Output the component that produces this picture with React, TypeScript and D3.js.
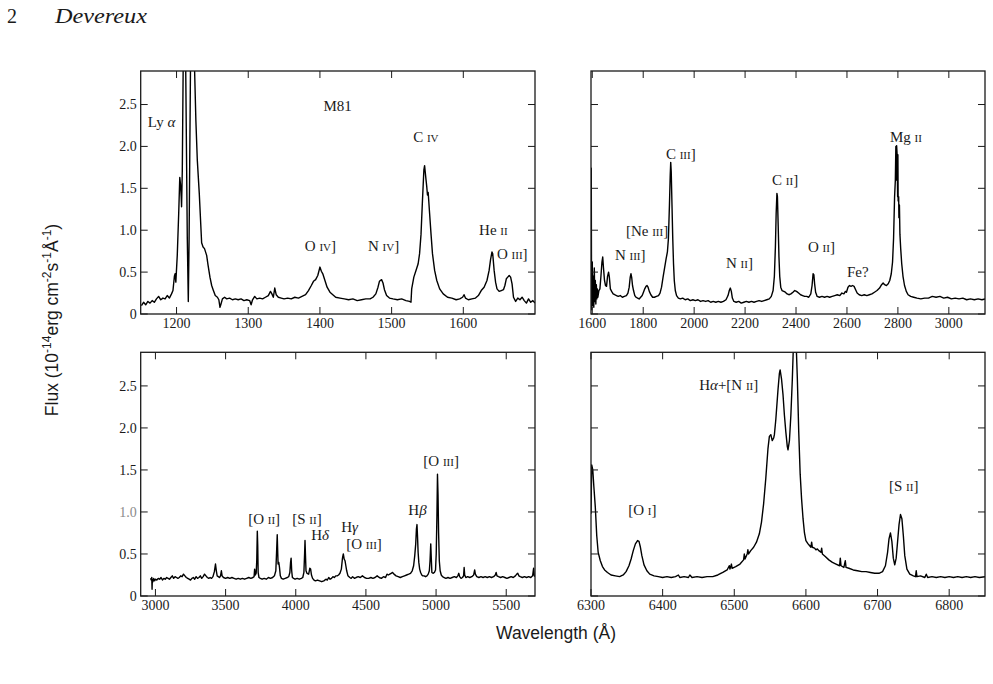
import React from 'react';
import * as d3 from 'd3';

type Pt = [number, number];

// flux axis shared by all four panels (units of 1e-14 erg/cm2/s/A)
const fluxTicks = [0, 0.5, 1.0, 1.5, 2.0, 2.5];
const fluxTickLabels = ['0', '0.5', '1.0', '1.5', '2.0', '2.5'];

const uvShortTicks = [1200, 1300, 1400, 1500, 1600];
const uvLongTicks = [1600, 1800, 2000, 2200, 2400, 2600, 2800, 3000];
const opticalTicks = [3000, 3500, 4000, 4500, 5000, 5500];
const redTicks = [6300, 6400, 6500, 6600, 6700, 6800];

// [wavelength, flux]
const uvShortSpec: Pt[] = [
  [1151, 0.1], [1154, 0.14], [1157, 0.11], [1160, 0.15], [1163, 0.13], [1166, 0.16], [1169, 0.14],
  [1172, 0.18], [1175, 0.21], [1178, 0.17], [1181, 0.19], [1184, 0.18], [1187, 0.22], [1190, 0.19],
  [1193, 0.24], [1195, 0.28], [1197, 0.45], [1198, 0.48], [1199, 0.38], [1201, 0.7], [1203, 1.2],
  [1204.5, 1.63], [1205.5, 1.55], [1206.5, 1.4], [1207, 1.28], [1208, 1.7], [1209.5, 3.2],
  [1212.5, 3.2], [1215, 0.9], [1216.4, 0.15], [1217.5, 0.9], [1219.7, 3.2], [1224.3, 3.2],
  [1227, 2.3], [1229, 1.83], [1231.7, 1.44], [1235, 0.85], [1237, 0.8], [1239, 0.78], [1242, 0.7],
  [1244, 0.58], [1246.6, 0.44], [1249, 0.34], [1251, 0.29], [1254, 0.22], [1257, 0.2], [1259, 0.17],
  [1260.6, 0.08], [1262, 0.12], [1264, 0.18], [1267, 0.2], [1270, 0.18], [1274, 0.19], [1278, 0.17],
  [1282, 0.18], [1286, 0.17], [1290, 0.18], [1294, 0.16], [1298, 0.17], [1302, 0.16], [1304, 0.11],
  [1306, 0.17], [1309, 0.21], [1312, 0.18], [1316, 0.19], [1320, 0.18], [1324, 0.2], [1328, 0.22],
  [1331, 0.27], [1333, 0.24], [1335, 0.2], [1337, 0.31], [1339, 0.23], [1342, 0.2], [1346, 0.19],
  [1350, 0.18], [1355, 0.19], [1360, 0.18], [1365, 0.2], [1370, 0.19], [1375, 0.21], [1380, 0.23],
  [1384, 0.28], [1388, 0.34], [1391, 0.39], [1394, 0.41], [1397, 0.46], [1400, 0.56], [1402, 0.51],
  [1404, 0.48], [1407, 0.4], [1410, 0.32], [1414, 0.26], [1418, 0.23], [1422, 0.2], [1428, 0.19],
  [1434, 0.18], [1440, 0.17], [1446, 0.18], [1452, 0.16], [1458, 0.17], [1464, 0.18], [1470, 0.18],
  [1474, 0.2], [1478, 0.24], [1481, 0.32], [1483, 0.39], [1486, 0.41], [1488, 0.37], [1490, 0.29],
  [1493, 0.22], [1497, 0.19], [1502, 0.18], [1508, 0.17], [1514, 0.18], [1520, 0.16], [1525, 0.15],
  [1527, 0.14], [1528, 0.3], [1531, 0.44], [1534, 0.52], [1537, 0.6], [1539, 0.72], [1541, 0.95],
  [1543, 1.35], [1545, 1.72], [1546, 1.77], [1548, 1.6], [1549, 1.52], [1550, 1.42], [1551, 1.45],
  [1553, 1.2], [1555, 0.95], [1557, 0.72], [1560, 0.52], [1563, 0.4], [1567, 0.3], [1572, 0.24],
  [1578, 0.2], [1584, 0.19], [1590, 0.17], [1595, 0.18], [1599, 0.2], [1601, 0.23], [1603, 0.19],
  [1607, 0.17], [1612, 0.18], [1617, 0.19], [1621, 0.22], [1625, 0.28], [1629, 0.32], [1633, 0.4],
  [1636, 0.52], [1638, 0.65], [1640, 0.74], [1641, 0.72], [1643, 0.52], [1645, 0.38], [1647, 0.3],
  [1650, 0.27], [1653, 0.28], [1656, 0.29], [1658, 0.34], [1660, 0.42], [1662, 0.44], [1664, 0.46],
  [1666, 0.44], [1668, 0.36], [1670, 0.2], [1673, 0.15], [1676, 0.19], [1679, 0.17], [1682, 0.2],
  [1685, 0.16], [1688, 0.13], [1691, 0.18], [1694, 0.14], [1697, 0.16], [1700, 0.13],
];

const uvLongSpec: Pt[] = [
  [1595, 0.3], [1596, 1.74], [1597, 0.4], [1598, 0.05], [1600, 0.62], [1602, 0.1], [1604, 0.45],
  [1606, 0.08], [1608, 0.55], [1610, 0.15], [1612, 0.4], [1614, 0.12], [1616, 0.35], [1618, 0.18],
  [1620, 0.3], [1622, 0.2], [1626, 0.28], [1630, 0.3], [1634, 0.45], [1638, 0.62], [1641, 0.68],
  [1644, 0.55], [1648, 0.4], [1652, 0.34], [1656, 0.33], [1660, 0.45], [1664, 0.5], [1667, 0.44],
  [1671, 0.3], [1676, 0.27], [1682, 0.24], [1688, 0.23], [1695, 0.22], [1702, 0.21], [1710, 0.22],
  [1718, 0.2], [1726, 0.21], [1734, 0.22], [1740, 0.25], [1745, 0.32], [1749, 0.44], [1752, 0.48],
  [1755, 0.43], [1758, 0.34], [1762, 0.28], [1767, 0.22], [1772, 0.2], [1778, 0.19], [1784, 0.18],
  [1790, 0.2], [1796, 0.22], [1801, 0.26], [1806, 0.3], [1811, 0.33], [1815, 0.34], [1819, 0.32],
  [1824, 0.27], [1830, 0.23], [1837, 0.2], [1844, 0.2], [1852, 0.21], [1860, 0.22], [1866, 0.25],
  [1872, 0.32], [1878, 0.44], [1884, 0.55], [1890, 0.66], [1895, 0.74], [1899, 0.9], [1903, 1.3],
  [1906, 1.65], [1908, 1.81], [1910, 1.7], [1913, 1.3], [1916, 0.9], [1919, 0.6], [1922, 0.4],
  [1926, 0.28], [1931, 0.22], [1938, 0.19], [1946, 0.18], [1955, 0.19], [1965, 0.17], [1975, 0.18],
  [1985, 0.16], [1995, 0.17], [2005, 0.16], [2015, 0.17], [2025, 0.15], [2035, 0.16], [2045, 0.15],
  [2055, 0.16], [2065, 0.14], [2075, 0.15], [2085, 0.14], [2095, 0.15], [2105, 0.14], [2115, 0.15],
  [2125, 0.17], [2133, 0.22], [2138, 0.28], [2142, 0.31], [2146, 0.27], [2150, 0.19], [2156, 0.15],
  [2165, 0.14], [2175, 0.15], [2185, 0.13], [2195, 0.14], [2205, 0.15], [2215, 0.14], [2225, 0.15],
  [2235, 0.14], [2245, 0.15], [2255, 0.16], [2265, 0.15], [2275, 0.16], [2285, 0.17], [2295, 0.18],
  [2303, 0.21], [2310, 0.28], [2315, 0.45], [2319, 0.8], [2322, 1.2], [2325, 1.44], [2327, 1.4],
  [2330, 1.05], [2333, 0.68], [2336, 0.45], [2340, 0.32], [2345, 0.28], [2352, 0.27], [2358, 0.26],
  [2365, 0.24], [2372, 0.23], [2380, 0.24], [2388, 0.26], [2395, 0.28], [2402, 0.27], [2410, 0.25],
  [2418, 0.23], [2426, 0.22], [2434, 0.21], [2442, 0.21], [2450, 0.2], [2458, 0.24], [2463, 0.34],
  [2467, 0.48], [2470, 0.47], [2473, 0.36], [2477, 0.26], [2483, 0.21], [2492, 0.2], [2502, 0.21],
  [2512, 0.2], [2522, 0.21], [2532, 0.2], [2542, 0.21], [2552, 0.22], [2562, 0.23], [2572, 0.22],
  [2580, 0.25], [2588, 0.24], [2594, 0.27], [2598, 0.26], [2604, 0.32], [2610, 0.34], [2616, 0.33],
  [2622, 0.34], [2628, 0.33], [2634, 0.29], [2640, 0.25], [2648, 0.23], [2658, 0.22], [2668, 0.23],
  [2678, 0.22], [2688, 0.23], [2698, 0.24], [2708, 0.26], [2718, 0.28], [2728, 0.31], [2736, 0.35],
  [2742, 0.37], [2748, 0.35], [2755, 0.34], [2762, 0.36], [2768, 0.4], [2774, 0.48], [2779, 0.62],
  [2783, 0.9], [2787, 1.4], [2790, 1.6], [2792, 2.0], [2794, 1.6], [2795, 2.01], [2797, 1.9],
  [2799, 1.4], [2800, 1.9], [2801, 1.35], [2803, 1.4], [2804, 1.15], [2806, 1.3], [2808, 0.95],
  [2811, 0.78], [2815, 0.6], [2820, 0.45], [2826, 0.34], [2833, 0.27], [2840, 0.23], [2850, 0.21],
  [2862, 0.2], [2875, 0.19], [2890, 0.18], [2905, 0.19], [2920, 0.19], [2935, 0.21], [2950, 0.2],
  [2965, 0.21], [2980, 0.19], [2995, 0.2], [3010, 0.18], [3025, 0.19], [3040, 0.18], [3055, 0.19],
  [3070, 0.17], [3085, 0.18], [3100, 0.17], [3115, 0.18], [3130, 0.17], [3142, 0.18],
];

const opticalSpec: Pt[] = [
  [2965, 0.21], [2970, 0.19], [2974, 0.22], [2976, 0.08], [2978, 0.2], [2982, 0.17], [2988, 0.21],
  [2994, 0.18], [3000, 0.2], [3010, 0.19], [3020, 0.21], [3030, 0.2], [3040, 0.22], [3050, 0.19],
  [3060, 0.21], [3070, 0.2], [3080, 0.22], [3090, 0.21], [3100, 0.2], [3110, 0.22], [3120, 0.24],
  [3130, 0.21], [3140, 0.23], [3150, 0.22], [3160, 0.21], [3170, 0.22], [3180, 0.24], [3190, 0.23],
  [3200, 0.26], [3210, 0.24], [3220, 0.22], [3230, 0.21], [3240, 0.2], [3250, 0.19], [3260, 0.21],
  [3270, 0.22], [3280, 0.2], [3290, 0.23], [3300, 0.21], [3310, 0.22], [3320, 0.24], [3330, 0.21],
  [3340, 0.23], [3350, 0.26], [3360, 0.24], [3370, 0.22], [3380, 0.21], [3390, 0.22], [3400, 0.21],
  [3410, 0.23], [3420, 0.29], [3428, 0.38], [3434, 0.3], [3440, 0.24], [3448, 0.23], [3456, 0.22],
  [3464, 0.24], [3470, 0.3], [3475, 0.24], [3485, 0.22], [3500, 0.21], [3515, 0.22], [3530, 0.21],
  [3545, 0.22], [3560, 0.21], [3575, 0.2], [3590, 0.21], [3605, 0.2], [3620, 0.21], [3635, 0.2],
  [3650, 0.21], [3665, 0.22], [3680, 0.21], [3695, 0.22], [3703, 0.23], [3707, 0.32], [3712, 0.25],
  [3718, 0.27], [3722, 0.42], [3726, 0.77], [3729, 0.6], [3732, 0.28], [3738, 0.22], [3748, 0.21],
  [3760, 0.2], [3775, 0.21], [3790, 0.2], [3805, 0.22], [3820, 0.21], [3835, 0.22], [3848, 0.24],
  [3858, 0.3], [3864, 0.55], [3868, 0.73], [3871, 0.55], [3874, 0.38], [3879, 0.4], [3884, 0.34],
  [3890, 0.24], [3898, 0.21], [3910, 0.2], [3925, 0.21], [3940, 0.22], [3950, 0.23], [3958, 0.28],
  [3963, 0.4], [3967, 0.45], [3971, 0.3], [3976, 0.22], [3985, 0.21], [3995, 0.2], [4010, 0.21],
  [4025, 0.2], [4040, 0.21], [4050, 0.22], [4058, 0.28], [4063, 0.5], [4066, 0.66], [4069, 0.5],
  [4073, 0.3], [4080, 0.27], [4092, 0.26], [4100, 0.33], [4106, 0.32], [4112, 0.25], [4120, 0.21],
  [4130, 0.19], [4140, 0.18], [4155, 0.19], [4170, 0.18], [4185, 0.17], [4200, 0.18], [4215, 0.2],
  [4225, 0.19], [4235, 0.22], [4245, 0.2], [4255, 0.21], [4265, 0.23], [4275, 0.22], [4285, 0.24],
  [4295, 0.24], [4305, 0.25], [4315, 0.27], [4325, 0.32], [4333, 0.45], [4339, 0.5], [4345, 0.44],
  [4351, 0.42], [4357, 0.36], [4363, 0.3], [4372, 0.24], [4385, 0.22], [4395, 0.21], [4405, 0.23],
  [4418, 0.21], [4430, 0.22], [4445, 0.23], [4460, 0.22], [4475, 0.24], [4490, 0.22], [4505, 0.21],
  [4520, 0.21], [4535, 0.22], [4550, 0.21], [4565, 0.22], [4580, 0.24], [4595, 0.22], [4610, 0.21],
  [4625, 0.23], [4640, 0.22], [4650, 0.26], [4660, 0.25], [4670, 0.26], [4680, 0.27], [4690, 0.28],
  [4700, 0.26], [4715, 0.24], [4730, 0.23], [4745, 0.22], [4760, 0.23], [4775, 0.24], [4790, 0.25],
  [4805, 0.26], [4818, 0.27], [4830, 0.3], [4840, 0.36], [4848, 0.48], [4855, 0.62], [4860, 0.8],
  [4864, 0.85], [4868, 0.7], [4872, 0.52], [4877, 0.4], [4883, 0.32], [4890, 0.28], [4898, 0.25],
  [4906, 0.24], [4915, 0.24], [4925, 0.23], [4935, 0.24], [4944, 0.26], [4952, 0.3], [4957, 0.42],
  [4962, 0.62], [4966, 0.45], [4970, 0.28], [4978, 0.27], [4988, 0.28], [4996, 0.31], [5001, 0.5],
  [5006, 0.95], [5010, 1.45], [5014, 1.2], [5018, 0.75], [5023, 0.42], [5029, 0.3], [5037, 0.25],
  [5046, 0.23], [5058, 0.22], [5070, 0.21], [5085, 0.22], [5100, 0.21], [5115, 0.22], [5130, 0.23],
  [5145, 0.22], [5155, 0.24], [5162, 0.27], [5168, 0.23], [5178, 0.21], [5188, 0.22], [5196, 0.24],
  [5200, 0.34], [5204, 0.25], [5212, 0.22], [5225, 0.23], [5240, 0.22], [5255, 0.23], [5268, 0.25],
  [5275, 0.31], [5280, 0.26], [5290, 0.23], [5305, 0.22], [5320, 0.23], [5335, 0.22], [5350, 0.23],
  [5365, 0.22], [5380, 0.23], [5395, 0.22], [5410, 0.23], [5422, 0.25], [5428, 0.28], [5434, 0.24],
  [5445, 0.23], [5460, 0.22], [5475, 0.23], [5490, 0.22], [5505, 0.21], [5520, 0.22], [5535, 0.23],
  [5550, 0.22], [5565, 0.24], [5575, 0.26], [5582, 0.27], [5590, 0.24], [5600, 0.23], [5615, 0.22],
  [5630, 0.23], [5645, 0.22], [5660, 0.23], [5675, 0.22], [5688, 0.24], [5695, 0.33], [5700, 0.24],
  [5704, 0.23],
];

const redSpec: Pt[] = [
  [6300, 0.98], [6301, 1.56], [6302.5, 1.5], [6304, 1.3], [6306, 1.06], [6308, 0.72], [6310, 0.52],
  [6313, 0.42], [6316, 0.35], [6319, 0.31], [6323, 0.28], [6328, 0.25], [6334, 0.24], [6340, 0.23],
  [6345, 0.25], [6349, 0.29], [6353, 0.36], [6356, 0.44], [6359, 0.54], [6362, 0.62], [6365, 0.66],
  [6367, 0.65], [6369, 0.58], [6371, 0.48], [6374, 0.37], [6378, 0.3], [6382, 0.26], [6388, 0.24],
  [6394, 0.23], [6400, 0.22], [6406, 0.23], [6412, 0.22], [6418, 0.23], [6422, 0.25], [6424, 0.22],
  [6430, 0.23], [6436, 0.22], [6438, 0.25], [6441, 0.22], [6448, 0.23], [6455, 0.22], [6462, 0.23],
  [6470, 0.23], [6477, 0.25], [6484, 0.28], [6490, 0.31], [6493, 0.36], [6494, 0.32], [6496, 0.38],
  [6497, 0.33], [6502, 0.35], [6508, 0.38], [6513, 0.43], [6514, 0.5], [6515, 0.44], [6518, 0.5],
  [6519, 0.55], [6520, 0.5], [6523, 0.54], [6527, 0.58], [6531, 0.64], [6535, 0.74], [6538, 0.88],
  [6541, 1.1], [6544, 1.4], [6547, 1.75], [6549, 1.9], [6551, 1.92], [6553, 1.85], [6555, 1.88],
  [6556, 1.92], [6558, 2.1], [6561, 2.45], [6563, 2.65], [6564, 2.69], [6566, 2.58], [6568, 2.4],
  [6570, 2.15], [6572, 1.95], [6574, 1.78], [6575, 1.74], [6577, 1.85], [6579, 2.15], [6581, 2.57],
  [6583, 3.1], [6586, 3.1], [6588, 2.6], [6590, 1.95], [6592, 1.45], [6594, 1.15], [6596, 0.92],
  [6598, 0.75], [6600, 0.66], [6603, 0.62], [6605, 0.6], [6607, 0.58], [6608, 0.64], [6609, 0.58],
  [6612, 0.57], [6614, 0.55], [6616, 0.56], [6618, 0.54], [6621, 0.52], [6622, 0.57], [6623, 0.5],
  [6627, 0.47], [6632, 0.43], [6637, 0.4], [6642, 0.38], [6647, 0.36], [6648, 0.45], [6649, 0.36],
  [6653, 0.34], [6655, 0.42], [6656, 0.34], [6660, 0.33], [6666, 0.31], [6672, 0.3], [6678, 0.29],
  [6684, 0.29], [6690, 0.28], [6696, 0.27], [6702, 0.27], [6707, 0.29], [6711, 0.36], [6714, 0.52],
  [6716, 0.68], [6718, 0.75], [6720, 0.65], [6722, 0.45], [6724, 0.37], [6726, 0.45], [6728, 0.65],
  [6730, 0.85], [6732, 0.97], [6734, 0.92], [6736, 0.72], [6738, 0.48], [6741, 0.32], [6745, 0.26],
  [6750, 0.24], [6753, 0.23], [6754, 0.3], [6755, 0.23], [6760, 0.24], [6766, 0.22], [6768, 0.26],
  [6770, 0.22], [6776, 0.23], [6782, 0.22], [6788, 0.23], [6794, 0.22], [6800, 0.23], [6806, 0.22],
  [6812, 0.23], [6818, 0.22], [6824, 0.23], [6830, 0.22], [6836, 0.23], [6842, 0.22], [6850, 0.23],
];

// line ids: {..} = small caps ion stage, _.._ = italic greek
type Note = { text: string; at: Pt };
const uvShortNotes: Note[] = [
  { text: 'Ly _α_', at: [1160, 2.23] },
  { text: 'M81', at: [1405, 2.42] },
  { text: 'C {IV}', at: [1530, 2.05] },
  { text: 'O {IV}]', at: [1379, 0.75] },
  { text: 'N {IV}]', at: [1467, 0.75] },
  { text: 'He {II}', at: [1622, 0.94] },
  { text: 'O {III}]', at: [1647, 0.66] },
];
const uvLongNotes: Note[] = [
  { text: 'C {III}]', at: [1889, 1.85] },
  { text: '[Ne {III}]', at: [1732, 0.93] },
  { text: 'N {III}]', at: [1689, 0.64] },
  { text: 'N {II}]', at: [2125, 0.55] },
  { text: 'C {II}]', at: [2306, 1.54] },
  { text: 'O {II}]', at: [2447, 0.74] },
  { text: 'Fe?', at: [2600, 0.44] },
  { text: 'Mg {II}', at: [2769, 2.05] },
];
const opticalNotes: Note[] = [
  { text: '[O {II}]', at: [3661, 0.857] },
  { text: '[S {II}]', at: [3975, 0.857] },
  { text: 'H_δ_', at: [4110, 0.667] },
  { text: 'H_γ_', at: [4324, 0.762] },
  { text: '[O {III}]', at: [4360, 0.56] },
  { text: 'H_β_', at: [4802, 0.964] },
  { text: '[O {III}]', at: [4909, 1.548] },
];
const redNotes: Note[] = [
  { text: 'H_α_+[N {II}]', at: [6451, 2.45] },
  { text: '[O {I}]', at: [6352, 0.964] },
  { text: '[S {II}]', at: [6716, 1.25] },
];

const SERIF = '"Liberation Serif", "Times New Roman", serif';
const SANS = '"Liberation Sans", Arial, Helvetica, sans-serif';
const INK = '#1a1a1a';

function renderNote(text: string) {
  return text
    .split(/(\{[^}]+\}|_[^_]+_)/)
    .filter((s) => s.length > 0)
    .map((s, i) => {
      if (s.startsWith('{')) {
        return (
          <tspan key={i} fontSize={11}>
            {s.slice(1, -1)}
          </tspan>
        );
      }
      if (s.startsWith('_')) {
        return (
          <tspan key={i} fontStyle="italic">
            {s.slice(1, -1)}
          </tspan>
        );
      }
      return <tspan key={i}>{s}</tspan>;
    });
}

type PanelProps = {
  id: string;
  x0: number;
  x1: number;
  y0: number;
  y1: number;
  domain: [number, number];
  ticks: number[];
  spec: Pt[];
  notes: Note[];
  showFluxLabels: boolean;
  greyLabel?: number;
};

const Panel: React.FC<PanelProps> = ({ id, x0, x1, y0, y1, domain, ticks, spec, notes, showFluxLabels, greyLabel }) => {
  const x = d3.scaleLinear().domain(domain).range([x0, x1]);
  const y = d3.scaleLinear().domain([0, 2.9]).range([y1, y0]);
  const line = d3
    .line<Pt>()
    .x((d) => x(d[0]))
    .y((d) => y(d[1]));
  const tl = 7;

  return (
    <g>
      <defs>
        <clipPath id={`clip-${id}`}>
          <rect x={x0} y={y0} width={x1 - x0} height={y1 - y0} />
        </clipPath>
      </defs>
      <path
        d={line(spec) ?? ''}
        fill="none"
        stroke="#000"
        strokeWidth={1.4}
        strokeLinejoin="round"
        clipPath={`url(#clip-${id})`}
      />
      <rect x={x0} y={y0} width={x1 - x0} height={y1 - y0} fill="none" stroke={INK} strokeWidth={1.3} />
      {ticks.map((t) => (
        <g key={`x${t}`}>
          <line x1={x(t)} x2={x(t)} y1={y1} y2={y1 - tl} stroke={INK} strokeWidth={1} />
          <line x1={x(t)} x2={x(t)} y1={y0} y2={y0 + tl} stroke={INK} strokeWidth={1} />
          <text
            x={x(t)}
            y={y1 + 14}
            textAnchor="middle"
            fontFamily={SERIF}
            fontSize={14}
            fill={INK}
          >
            {t}
          </text>
        </g>
      ))}
      {fluxTicks.map((f, i) => (
        <g key={`y${f}`}>
          <line x1={x0} x2={x0 + tl} y1={y(f)} y2={y(f)} stroke={INK} strokeWidth={1} />
          <line x1={x1} x2={x1 - tl} y1={y(f)} y2={y(f)} stroke={INK} strokeWidth={1} />
          {showFluxLabels && (
            <text
              x={x0 - 4}
              y={y(f)}
              dy="0.35em"
              textAnchor="end"
              fontFamily={SERIF}
              fontSize={14}
              fill={greyLabel === f ? '#8a8a8a' : INK}
            >
              {fluxTickLabels[i]}
            </text>
          )}
        </g>
      ))}
      {notes.map((n, i) => (
        <text key={i} x={x(n.at[0])} y={y(n.at[1])} fontFamily={SERIF} fontSize={15} fill={INK}>
          {renderNote(n.text)}
        </text>
      ))}
    </g>
  );
};

export default function App() {
  const left = { x0: 140.7, x1: 535 };
  const right = { x0: 591, x1: 985 };
  const top = { y0: 71, y1: 314 };
  const bottom = { y0: 352.3, y1: 596 };

  return (
    <svg
      width={993}
      height={684}
      viewBox="0 0 993 684"
      style={{ position: 'absolute', left: 0, top: 0, background: '#fff' }}
    >
      <rect x={0} y={0} width={993} height={684} fill="#fff" />
      <text x={7} y={23} fontFamily={SERIF} fontSize={20} fill={INK}>
        2
      </text>
      <text
        x={55}
        y={23}
        fontFamily={SERIF}
        fontStyle="italic"
        fontSize={20}
        fill={INK}
        textLength={92}
        lengthAdjust="spacingAndGlyphs"
      >
        Devereux
      </text>

      <Panel id="uv1" {...left} {...top} domain={[1150, 1700]} ticks={uvShortTicks} spec={uvShortSpec} notes={uvShortNotes} showFluxLabels />
      <Panel id="uv2" {...right} {...top} domain={[1595, 3142]} ticks={uvLongTicks} spec={uvLongSpec} notes={uvLongNotes} showFluxLabels={false} />
      <Panel id="opt" {...left} {...bottom} domain={[2895, 5705]} ticks={opticalTicks} spec={opticalSpec} notes={opticalNotes} showFluxLabels greyLabel={1.0} />
      <Panel id="red" {...right} {...bottom} domain={[6300, 6850]} ticks={redTicks} spec={redSpec} notes={redNotes} showFluxLabels={false} />

      <text x={556} y={639} textAnchor="middle" fontFamily={SANS} fontSize={17.5} fill={INK}>
        Wavelength (Å)
      </text>
      <text
        transform="translate(57.5,320) rotate(-90)"
        textAnchor="middle"
        fontFamily={SANS}
        fontSize={17.5}
        fill={INK}
      >
        Flux (10
        <tspan fontSize={12} dy={-7}>-14</tspan>
        <tspan dy={7}>erg cm</tspan>
        <tspan fontSize={12} dy={-7}>-2</tspan>
        <tspan dy={7}>s</tspan>
        <tspan fontSize={12} dy={-7}>-1</tspan>
        <tspan dy={7}>Å</tspan>
        <tspan fontSize={12} dy={-7}>-1</tspan>
        <tspan dy={7}>)</tspan>
      </text>
    </svg>
  );
}
